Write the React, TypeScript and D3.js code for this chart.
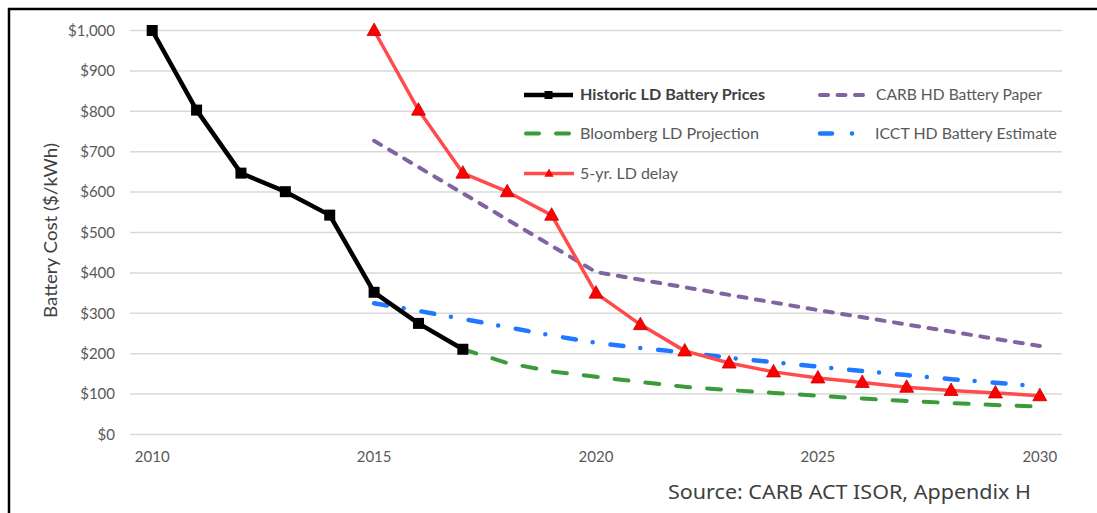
import * as d3 from "d3";

const historicYears = [2010, 2011, 2012, 2013, 2014, 2015, 2016, 2017];
const historicPrices = [1000, 803, 647, 601, 543, 352, 275, 211];

const bloombergYears = [2017, 2018, 2019, 2020, 2021, 2022, 2023, 2024, 2025, 2026, 2027, 2028, 2029, 2030];
const bloombergPrices = [211, 177, 156, 143, 130, 118, 110, 103, 96, 89, 83, 78, 73, 69];

const delayYears = [2015, 2016, 2017, 2018, 2019, 2020, 2021, 2022, 2023, 2024, 2025, 2026, 2027, 2028, 2029, 2030];
const delayPrices = [1000, 803, 647, 601, 543, 350, 272, 207, 177, 155, 140, 129, 117, 109, 103, 96];

const carbYears = [2015, 2020, 2025, 2030];
const carbPrices = [727, 402, 308, 219];

const icctYears = [2015, 2016, 2017, 2018, 2019, 2020, 2021, 2022, 2023, 2024, 2025, 2026, 2027, 2028, 2029, 2030];
const icctPrices = [325, 306, 286, 266, 245, 227, 214, 203, 190, 179, 168, 157, 147, 137, 128, 119];

const yTicks = [0, 100, 200, 300, 400, 500, 600, 700, 800, 900, 1000];
const xTickLabels = [2010, 2015, 2020, 2025, 2030];

const width = 1097;
const height = 513;
const font = "Lato, 'Open Sans', sans-serif";

export default function App() {
  const x = d3.scaleLinear([2009.5, 2030.5], [130, 1062]);
  const y = d3.scaleLinear([0, 1000], [434.5, 30.5]);

  const line = d3
    .line<[number, number]>()
    .x((d) => x(d[0]))
    .y((d) => y(d[1]));

  const pts = (xs: number[], ys: number[]) => xs.map((v, i) => [v, ys[i]] as [number, number]);
  const fmt = d3.format("$,.0f");

  const tri = (cx: number, cy: number, s: number) =>
    `M${cx},${cy - s * 0.62}L${cx + s * 0.58},${cy + s * 0.42}L${cx - s * 0.58},${cy + s * 0.42}Z`;

  const legendX1 = 524;
  const legendX2 = 818;
  const rows = [95, 133.5, 173.5];

  return (
    <svg
      width={width}
      height={height}
      style={{ position: "absolute", left: 0, top: 0, background: "#fff" }}
    >
      <rect x={9} y={9} width={1200} height={600} fill="#fff" stroke="#000" strokeWidth={2.5} />

      {/* grid */}
      <g stroke="#d9d9d9" strokeWidth={1.5}>
        {yTicks.map((t) => (
          <line key={t} x1={130} x2={1062} y1={y(t)} y2={y(t)} />
        ))}
      </g>

      {/* y labels */}
      <g fontFamily={font} fontSize={15} fill="#595959" textAnchor="end">
        {yTicks.map((t) => (
          <text key={t} x={115} y={y(t)} dy="0.35em">
            {fmt(t)}
          </text>
        ))}
      </g>
      <g fontFamily={font} fontSize={15} fill="#595959" textAnchor="middle">
        {xTickLabels.map((t) => (
          <text key={t} x={x(t)} y={462}>
            {t}
          </text>
        ))}
      </g>
      <text
        transform={`translate(57,230.5) rotate(-90)`}
        textAnchor="middle"
        fontFamily={font}
        fontSize={17}
        fill="#404040"
        textLength={175}
        lengthAdjust="spacingAndGlyphs"
      >
        Battery Cost  ($/kWh)
      </text>

      {/* series */}
      <path
        d={line(pts(carbYears, carbPrices)) ?? ""}
        fill="none"
        stroke="#8064a2"
        strokeWidth={4}
        strokeDasharray="8 9.5"
        strokeLinecap="round"
      />
      <path
        d={line(pts(bloombergYears, bloombergPrices)) ?? ""}
        fill="none"
        stroke="#3a9b3a"
        strokeWidth={4}
        strokeDasharray="14 17"
        strokeLinecap="round"
      />
      <path
        d={line(pts(icctYears, icctPrices)) ?? ""}
        fill="none"
        stroke="#1f78ff"
        strokeWidth={4.5}
        strokeDasharray="13 17 0 18"
        strokeLinecap="round"
      />
      <path
        d={line(pts(delayYears, delayPrices)) ?? ""}
        fill="none"
        stroke="#ff4b4b"
        strokeWidth={3.5}
        strokeLinejoin="round"
      />
      <g fill="#ff0000" stroke="#c00000" strokeWidth={0.8}>
        {delayYears.map((yr, i) => (
          <path key={yr} d={tri(x(yr), y(delayPrices[i]), 12)} />
        ))}
      </g>
      <path
        d={line(pts(historicYears, historicPrices)) ?? ""}
        fill="none"
        stroke="#000"
        strokeWidth={4.5}
        strokeLinejoin="round"
      />
      <g fill="#000">
        {historicYears.map((yr, i) => (
          <rect key={yr} x={x(yr) - 5.5} y={y(historicPrices[i]) - 5.5} width={11} height={11} />
        ))}
      </g>

      {/* legend */}
      <g fontFamily={font} fontSize={15.5} fill="#595959" lengthAdjust="spacingAndGlyphs">
        <line x1={legendX1} x2={legendX1 + 49} y1={rows[0]} y2={rows[0]} stroke="#000" strokeWidth={4.5} />
        <rect x={legendX1 + 20.5} y={rows[0] - 4} width={8} height={8} fill="#000" />
        <text x={580} y={rows[0]} dy="0.35em" fontWeight="bold" fill="#404040" textLength={185} lengthAdjust="spacingAndGlyphs">
          Historic LD Battery Prices
        </text>

        <line
          x1={legendX1 + 2}
          x2={legendX1 + 47}
          y1={rows[1]}
          y2={rows[1]}
          stroke="#3a9b3a"
          strokeWidth={4}
          strokeDasharray="13 17"
          strokeLinecap="round"
        />
        <text x={580} y={rows[1]} dy="0.35em" textLength={179} lengthAdjust="spacingAndGlyphs">
          Bloomberg LD Projection
        </text>

        <line x1={legendX1} x2={legendX1 + 50} y1={rows[2]} y2={rows[2]} stroke="#ff4b4b" strokeWidth={3.5} />
        <path d={tri(legendX1 + 25, rows[2], 8)} fill="#ff0000" />
        <text x={580} y={rows[2]} dy="0.35em" textLength={98} lengthAdjust="spacingAndGlyphs">
          5-yr. LD delay
        </text>

        <line
          x1={legendX2 + 2}
          x2={legendX2 + 47}
          y1={rows[0]}
          y2={rows[0]}
          stroke="#8064a2"
          strokeWidth={4}
          strokeDasharray="8 9.5"
          strokeLinecap="round"
        />
        <text x={876} y={rows[0]} dy="0.35em" textLength={166} lengthAdjust="spacingAndGlyphs">
          CARB HD Battery Paper
        </text>

        <line
          x1={legendX2 + 2}
          x2={legendX2 + 52}
          y1={rows[1]}
          y2={rows[1]}
          stroke="#1f78ff"
          strokeWidth={4.5}
          strokeDasharray="12 20 0 18 0 20"
          strokeLinecap="round"
        />
        <text x={875} y={rows[1]} dy="0.35em" textLength={182} lengthAdjust="spacingAndGlyphs">
          ICCT HD Battery Estimate
        </text>
      </g>

      <text
        x={668}
        y={499}
        fontFamily="'Noto Sans', sans-serif"
        fontSize={19}
        fill="#404040"
        textLength={363}
        lengthAdjust="spacingAndGlyphs"
      >
        Source: CARB ACT ISOR, Appendix H
      </text>
    </svg>
  );
}
